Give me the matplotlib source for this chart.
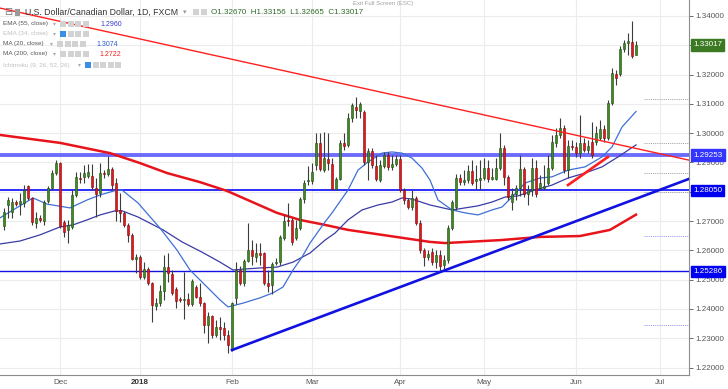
import numpy as np
import pandas as pd
import matplotlib
matplotlib.use("Agg")
import matplotlib.pyplot as plt
from matplotlib.patches import Rectangle

plt.rcParams['font.family'] = ['Liberation Sans', 'DejaVu Sans']

# daily FXCM bars, no bar on Christmas day
dates = pd.bdate_range('2017-11-13', '2018-06-22')
dates = dates[dates != pd.Timestamp('2017-12-25')]

opens = [
    1.2683, 1.2755, 1.2731, 1.2765, 1.2758, 1.2762, 1.2820, 1.2779, 1.2694, 1.2711,
    1.2700, 1.2769, 1.2813, 1.2864, 1.2898, 1.2697, 1.2670, 1.2680, 1.2789, 1.2847,
    1.2851, 1.2854, 1.2854, 1.2813, 1.2796, 1.2864, 1.2861, 1.2878, 1.2830, 1.2738,
    1.2728, 1.2687, 1.2653, 1.2571, 1.2577, 1.2509, 1.2536, 1.2489, 1.2410, 1.2420,
    1.2461, 1.2543, 1.2519, 1.2468, 1.2434, 1.2431, 1.2434, 1.2417, 1.2475, 1.2441,
    1.2420, 1.2345, 1.2376, 1.2311, 1.2339, 1.2335, 1.2311, 1.2260, 1.2438, 1.2533,
    1.2489, 1.2564, 1.2601, 1.2577, 1.2591, 1.2591, 1.2489, 1.2482, 1.2557, 1.2560,
    1.2642, 1.2704, 1.2704, 1.2642, 1.2676, 1.2775, 1.2837, 1.2837, 1.2892, 1.2967,
    1.2874, 1.2912, 1.2895, 1.2810, 1.2844, 1.2967, 1.2960, 1.3052, 1.3089, 1.3076,
    1.3072, 1.2902, 1.2939, 1.2888, 1.2840, 1.2888, 1.2926, 1.2885, 1.2895, 1.2912,
    1.2806, 1.2772, 1.2748, 1.2779, 1.2694, 1.2601, 1.2577, 1.2594, 1.2560, 1.2584,
    1.2550, 1.2567, 1.2676, 1.2748, 1.2847, 1.2833, 1.2840, 1.2871, 1.2837, 1.2840,
    1.2847, 1.2881, 1.2844, 1.2844, 1.2881, 1.2949, 1.2851, 1.2765, 1.2792, 1.2813,
    1.2878, 1.2792, 1.2806, 1.2881, 1.2813, 1.2813, 1.2830, 1.2881, 1.2967, 1.2994,
    1.3018, 1.2874, 1.2956, 1.2953, 1.2932, 1.2967, 1.2943, 1.2970, 1.2970, 1.2984,
    1.3014, 1.2984, 1.3103, 1.3202, 1.3202, 1.3287, 1.3308, 1.3311, 1.32670,
]
highs = [
    1.2745, 1.2782, 1.2779, 1.2772, 1.2796, 1.2823, 1.2823, 1.2782, 1.2731, 1.2721,
    1.2772, 1.2820, 1.2874, 1.2909, 1.2902, 1.2704, 1.2704, 1.2806, 1.2868, 1.2868,
    1.2892, 1.2895, 1.2895, 1.2847, 1.2898, 1.2874, 1.2922, 1.2885, 1.2847, 1.2796,
    1.2735, 1.2694, 1.2659, 1.2588, 1.2584, 1.2560, 1.2543, 1.2492, 1.2438, 1.2482,
    1.2584, 1.2591, 1.2533, 1.2475, 1.2441, 1.2526, 1.2455, 1.2502, 1.2482, 1.2489,
    1.2424, 1.2390, 1.2379, 1.2363, 1.2373, 1.2356, 1.2328, 1.2424, 1.2560, 1.2547,
    1.2571, 1.2694, 1.2635, 1.2625, 1.2625, 1.2594, 1.2533, 1.2560, 1.2574, 1.2653,
    1.2721, 1.2762, 1.2711, 1.2704, 1.2782, 1.2840, 1.2888, 1.2898, 1.3001, 1.3001,
    1.3004, 1.3001, 1.2915, 1.2851, 1.2977, 1.3001, 1.3069, 1.3103, 1.3124, 1.3106,
    1.3079, 1.2949, 1.2949, 1.2926, 1.2909, 1.2936, 1.2936, 1.2926, 1.2926, 1.2926,
    1.2813, 1.2779, 1.2806, 1.2786, 1.2704, 1.2608, 1.2601, 1.2608, 1.2601, 1.2601,
    1.2584, 1.2687, 1.2772, 1.2861, 1.2861, 1.2874, 1.2892, 1.2909, 1.2892, 1.2909,
    1.2915, 1.2909, 1.2881, 1.2915, 1.3001, 1.2960, 1.2857, 1.2813, 1.2823, 1.2926,
    1.2885, 1.2823, 1.2915, 1.2909, 1.2857, 1.2892, 1.2926, 1.2994, 1.3018, 1.3052,
    1.3028, 1.2977, 1.2977, 1.2970, 1.3062, 1.2984, 1.2977, 1.3038, 1.3025, 1.3045,
    1.3028, 1.3113, 1.3223, 1.3216, 1.3298, 1.3318, 1.3342, 1.3383, 1.33156,
]
lows = [
    1.2670, 1.2711, 1.2711, 1.2752, 1.2721, 1.2748, 1.2772, 1.2687, 1.2676, 1.2697,
    1.2687, 1.2762, 1.2806, 1.2857, 1.2676, 1.2646, 1.2625, 1.2673, 1.2782, 1.2830,
    1.2830, 1.2847, 1.2806, 1.2714, 1.2782, 1.2847, 1.2854, 1.2806, 1.2700, 1.2697,
    1.2680, 1.2629, 1.2567, 1.2523, 1.2502, 1.2502, 1.2482, 1.2356, 1.2397, 1.2410,
    1.2431, 1.2492, 1.2448, 1.2403, 1.2424, 1.2366, 1.2410, 1.2410, 1.2438, 1.2410,
    1.2318, 1.2283, 1.2301, 1.2304, 1.2294, 1.2294, 1.2250, 1.2257, 1.2417, 1.2482,
    1.2478, 1.2560, 1.2550, 1.2560, 1.2550, 1.2482, 1.2458, 1.2451, 1.2550, 1.2550,
    1.2635, 1.2683, 1.2618, 1.2635, 1.2670, 1.2762, 1.2823, 1.2827, 1.2874, 1.2871,
    1.2868, 1.2874, 1.2806, 1.2806, 1.2840, 1.2943, 1.2953, 1.3038, 1.3052, 1.3052,
    1.2892, 1.2840, 1.2881, 1.2837, 1.2833, 1.2881, 1.2874, 1.2874, 1.2888, 1.2799,
    1.2758, 1.2741, 1.2738, 1.2687, 1.2591, 1.2547, 1.2567, 1.2550, 1.2540, 1.2530,
    1.2533, 1.2557, 1.2670, 1.2738, 1.2823, 1.2823, 1.2830, 1.2823, 1.2806, 1.2806,
    1.2840, 1.2833, 1.2840, 1.2840, 1.2874, 1.2823, 1.2772, 1.2738, 1.2772, 1.2786,
    1.2782, 1.2755, 1.2786, 1.2782, 1.2806, 1.2806, 1.2823, 1.2874, 1.2953, 1.2984,
    1.2864, 1.2847, 1.2943, 1.2919, 1.2915, 1.2936, 1.2932, 1.2915, 1.2960, 1.2977,
    1.2970, 1.2977, 1.3096, 1.3165, 1.3195, 1.3277, 1.3267, 1.3257, 1.32665,
]
closes = [
    1.2731, 1.2772, 1.2765, 1.2758, 1.2769, 1.2806, 1.2779, 1.2697, 1.2711, 1.2704,
    1.2765, 1.2813, 1.2864, 1.2898, 1.2683, 1.2663, 1.2687, 1.2789, 1.2851, 1.2844,
    1.2864, 1.2868, 1.2816, 1.2792, 1.2864, 1.2861, 1.2878, 1.2823, 1.2735, 1.2728,
    1.2687, 1.2653, 1.2571, 1.2577, 1.2509, 1.2536, 1.2489, 1.2414, 1.2420, 1.2461,
    1.2543, 1.2523, 1.2455, 1.2427, 1.2431, 1.2434, 1.2417, 1.2495, 1.2441, 1.2420,
    1.2345, 1.2376, 1.2311, 1.2339, 1.2332, 1.2311, 1.2277, 1.2420, 1.2533, 1.2489,
    1.2564, 1.2601, 1.2581, 1.2591, 1.2584, 1.2489, 1.2478, 1.2554, 1.2560, 1.2646,
    1.2700, 1.2700, 1.2629, 1.2676, 1.2775, 1.2830, 1.2840, 1.2868, 1.2967, 1.2878,
    1.2915, 1.2898, 1.2810, 1.2844, 1.2967, 1.2956, 1.3052, 1.3096, 1.3079, 1.3100,
    1.2902, 1.2939, 1.2892, 1.2844, 1.2892, 1.2926, 1.2885, 1.2895, 1.2912, 1.2806,
    1.2772, 1.2748, 1.2779, 1.2694, 1.2601, 1.2577, 1.2588, 1.2560, 1.2584, 1.2547,
    1.2567, 1.2676, 1.2765, 1.2847, 1.2833, 1.2840, 1.2871, 1.2830, 1.2844, 1.2847,
    1.2881, 1.2844, 1.2851, 1.2881, 1.2949, 1.2851, 1.2782, 1.2792, 1.2813, 1.2878,
    1.2792, 1.2806, 1.2881, 1.2792, 1.2830, 1.2820, 1.2881, 1.2970, 1.2994, 1.3018,
    1.2874, 1.2956, 1.2953, 1.2932, 1.2967, 1.2943, 1.2956, 1.2926, 1.3001, 1.3014,
    1.2984, 1.3103, 1.3205, 1.3188, 1.3287, 1.3308, 1.3315, 1.3264, 1.33017,
]

# indicator lines (bar position, value)
ma20_pos = [-1, 7.25, 10.75, 16.5, 20.75, 24, 28.25, 29.5, 33.5, 39, 43.25, 46.5, 50.25,
            54, 56, 59.75, 64, 67.25, 69.75, 72.25, 74.5, 76.5, 80.25, 82, 86, 88.5, 91,
            94.5, 97, 99.5, 102, 104.5, 106.5, 108.5, 112, 115.25, 118.5, 122, 124.5, 127,
            130.25, 134, 137, 141, 145.25, 149.5, 152, 154.5, 158]
ma20_val = [1.2711, 1.2779, 1.2758, 1.2745, 1.2772, 1.2789, 1.2806, 1.2806, 1.2762, 1.2676,
            1.2601, 1.2533, 1.2482, 1.2431, 1.2407, 1.2420, 1.2438, 1.2455, 1.2475, 1.2533,
            1.2577, 1.2625, 1.2697, 1.2728, 1.2806, 1.2874, 1.2902, 1.2932, 1.2936, 1.2932,
            1.2915, 1.2881, 1.2840, 1.2772, 1.2738, 1.2728, 1.2721, 1.2738, 1.2748, 1.2782,
            1.2830, 1.2847, 1.2851, 1.2874, 1.2885, 1.2919, 1.2953, 1.3021, 1.3074]

ema55_pos = [-1, 4, 9, 14, 17.25, 20.75, 24, 27.75, 29.5, 33.5, 39.75, 44.5, 49.5, 54,
             57.25, 59.75, 64, 68.25, 72.25, 76.5, 80.25, 82.75, 86, 89.5, 93.5, 97, 99.5,
             102, 106.5, 112, 115.25, 118.5, 122, 125.25, 128.5, 132.75, 137, 141, 145.25,
             149.5, 153.5, 158]
ema55_val = [1.2622, 1.2632, 1.2653, 1.2680, 1.2687, 1.2704, 1.2721, 1.2735, 1.2735, 1.2714,
             1.2670, 1.2629, 1.2594, 1.2560, 1.2533, 1.2536, 1.2540, 1.2543, 1.2560, 1.2591,
             1.2635, 1.2659, 1.2704, 1.2738, 1.2755, 1.2765, 1.2779, 1.2775, 1.2755, 1.2738,
             1.2745, 1.2752, 1.2765, 1.2782, 1.2786, 1.2806, 1.2823, 1.2847, 1.2864, 1.2885,
             1.2919, 1.2960]

ma200_pos = [-1, 14, 26.5, 34, 40.75, 49, 55.75, 59.75, 68.25, 74, 80.25, 86, 94.5,
             106.5, 110.25, 124, 134, 144, 151.5, 158]
ma200_val = [1.2994, 1.2967, 1.2932, 1.2898, 1.2864, 1.2833, 1.2803, 1.2779, 1.2728, 1.2704,
             1.2687, 1.2670, 1.2653, 1.2629, 1.2625, 1.2635, 1.2646, 1.2649, 1.2670, 1.2722]

# drawn objects
levels = [1.29253, 1.28050, 1.25286]
down_trend_pos = [-1, 171.25]
down_trend_val = [1.3427, 1.2908]
up_trend_pos = [57, 171.25]
up_trend_val = [1.2260, 1.2844]
short_trend_pos = [141, 151]
short_trend_val = [1.2823, 1.2919]
dotted_grey = [1.3117, 1.2967, 1.2864, 1.2799]
dotted_blue = [1.2649, 1.2345]

month_labels = ["Dec", "2018", "Feb", "Mar", "Apr", "May", "Jun", "Jul"]

W, H = 728, 389
fig = plt.figure(figsize=(W / 100, H / 100), dpi=100)
fig.patch.set_facecolor('white')
ax = fig.add_axes([0, 14 / H, 689 / W, 375 / H])

idx = np.arange(len(closes))
o = np.array(opens); c = np.array(closes)
hi = np.array(highs); lo = np.array(lows)
up = c >= o

ax.set_xlim(-1, 171.25)
ax.set_ylim(1.21747, 1.34546)

# grid
yt = np.round(np.arange(1.22, 1.3401, 0.01), 2)
ax.set_yticks(yt)
# labels hidden behind the price boxes are left blank
hidden = [1.33, 1.28]
ax.set_yticklabels(["" if v in hidden else f"{v:.5f}" for v in yt])
all_days = pd.bdate_range('2017-11-13', '2018-07-13')
all_days = all_days[all_days != pd.Timestamp('2017-12-25')]
month_first = pd.Series(np.arange(len(all_days)), index=all_days)
month_first = month_first.groupby([all_days.year, all_days.month]).first().values[1:]
ax.set_xticks(month_first)
ax.set_xticklabels(month_labels)
ax.grid(True, color='#ececec', lw=0.8)
ax.set_axisbelow(True)

ax.yaxis.tick_right()
ax.tick_params(axis='y', labelsize=5.8, colors='#555555', length=3, width=0.6, pad=1.5)
ax.tick_params(axis='x', labelsize=5.8, colors='#555555', length=0, pad=3)
for lbl in ax.get_xticklabels():
    if lbl.get_text() == "2018":
        lbl.set_fontweight('bold')
        lbl.set_color('#333333')
for s in ['top', 'left']:
    ax.spines[s].set_visible(False)
ax.spines['right'].set_color('#8c8c8c')
ax.spines['bottom'].set_color('#8c8c8c')

# horizontal levels
ax.axhline(levels[0], color='#5c5cff', lw=2.8, alpha=0.9, zorder=2)
ax.axhline(levels[1], color='#0a0aff', lw=1.2, zorder=2)
ax.axhline(levels[2], color='#1212e6', lw=1.0, zorder=2)

for v in dotted_grey:
    ax.plot([160, 171.25], [v, v], color='#9a9a9a', lw=0.7, ls=(0, (1, 1.2)), zorder=1)
for v in dotted_blue:
    ax.plot([160, 171.25], [v, v], color='#8c8cf0', lw=0.7, ls=(0, (1, 1.2)), zorder=1)

# indicators
ax.plot(ma200_pos, ma200_val, color='#e8141c', lw=1.8, zorder=3)
ax.plot(ema55_pos, ema55_val, color='#3b3ba6', lw=0.9, zorder=3)
ax.plot(ma20_pos, ma20_val, color='#3f6fd6', lw=0.9, zorder=3)

# candles
ax.vlines(idx, lo, hi, color='#3c3c3c', lw=0.8, zorder=4)
body = np.maximum(np.abs(c - o), 0.00018)
ax.bar(idx[up], body[up], bottom=np.minimum(o, c)[up], width=0.62,
       color='#3f8a24', edgecolor='#1e4a10', lw=0.4, zorder=5)
ax.bar(idx[~up], body[~up], bottom=np.minimum(o, c)[~up], width=0.62,
       color='#e8141c', edgecolor='#7a0c0c', lw=0.4, zorder=5)

# trend lines
ax.plot(down_trend_pos, down_trend_val, color='#ff1f1f', lw=1.0, zorder=6)
ax.plot(up_trend_pos, up_trend_val, color='#1212e0', lw=1.9, zorder=6)
ax.plot(short_trend_pos, short_trend_val, color='#ff1f1f', lw=1.9, zorder=6)

# price boxes on the scale
tr = ax.get_yaxis_transform()
boxes = [(levels[0], '#3434ff'), (levels[1], '#0000f0'), (levels[2], '#0000f0'),
         (closes[-1], '#3b7a22')]
for v, col in boxes:
    ax.text(1.006, v, f"{v:.5f}", transform=tr, ha='left', va='center', fontsize=5.8,
            color='white', clip_on=False, zorder=10,
            bbox=dict(boxstyle='square,pad=0.28', fc=col, ec=col))


# legend area at the top left
def fx(px):
    return px / W


def fy(py):
    return 1 - py / H


def icons(x0, y0, n, first_blue=False):
    for k in range(n):
        col = '#3b8fe3' if (first_blue and k == 0) else '#d2d2d2'
        fig.patches.append(Rectangle((fx(x0 + k * 7.5), fy(y0 + 3)), 6 / W, 6 / H,
                                     transform=fig.transFigure, fc=col, ec='none'))


fig.text(fx(4), fy(12), "⊟", fontsize=7, color='#777777', va='center', family=['DejaVu Sans'])
fig.patches.append(Rectangle((fx(15), fy(15.5)), 5 / W, 7 / H, transform=fig.transFigure,
                             fc='#9a9a9a', ec='none'))
fig.text(fx(25), fy(12), "U.S. Dollar/Canadian Dollar, 1D, FXCM", fontsize=6.3,
         color='#333333', va='center')
fig.text(fx(183), fy(12), "▾", fontsize=5, color='#999999', va='center', family=['DejaVu Sans'])
icons(193, 12, 2)
fig.text(fx(211), fy(12), "O1.32670  H1.33156  L1.32665  C1.33017", fontsize=5.8,
         color='#2f6b2a', va='center')
fig.text(fx(353), fy(4), "Exit Full Screen (ESC)", fontsize=4.3, color='#a0a0a0', va='center')

rows = [("EMA (55, close)", '#555555', 24, 4, False, 60, "1.2960", '#3a3acc', 100),
        ("EMA (34, close)", '#c0c0c0', 34, 4, True, 60, "", None, 0),
        ("MA (20, close)", '#555555', 44, 4, False, 57, "1.3074", '#2a5bd0', 96),
        ("MA (200, close)", '#555555', 54, 4, False, 60, "1.2722", '#ee2020', 99),
        ("Ichimoku (9, 26, 52, 26)", '#c0c0c0', 65, 5, True, 85, "", None, 0)]
for name, col, y, n, fb, ix, val, vcol, vx in rows:
    fig.text(fx(3), fy(y), name, fontsize=4.6, color=col, va='center')
    fig.text(fx(ix - 7), fy(y), "▾", fontsize=4.2, color='#aaaaaa', va='center',
             family=['DejaVu Sans'])
    icons(ix, y, n, fb)
    if val:
        fig.text(fx(vx), fy(y), val, fontsize=5.0, color=vcol, va='center')

fig.savefig('out.png', dpi=100, facecolor='white')
